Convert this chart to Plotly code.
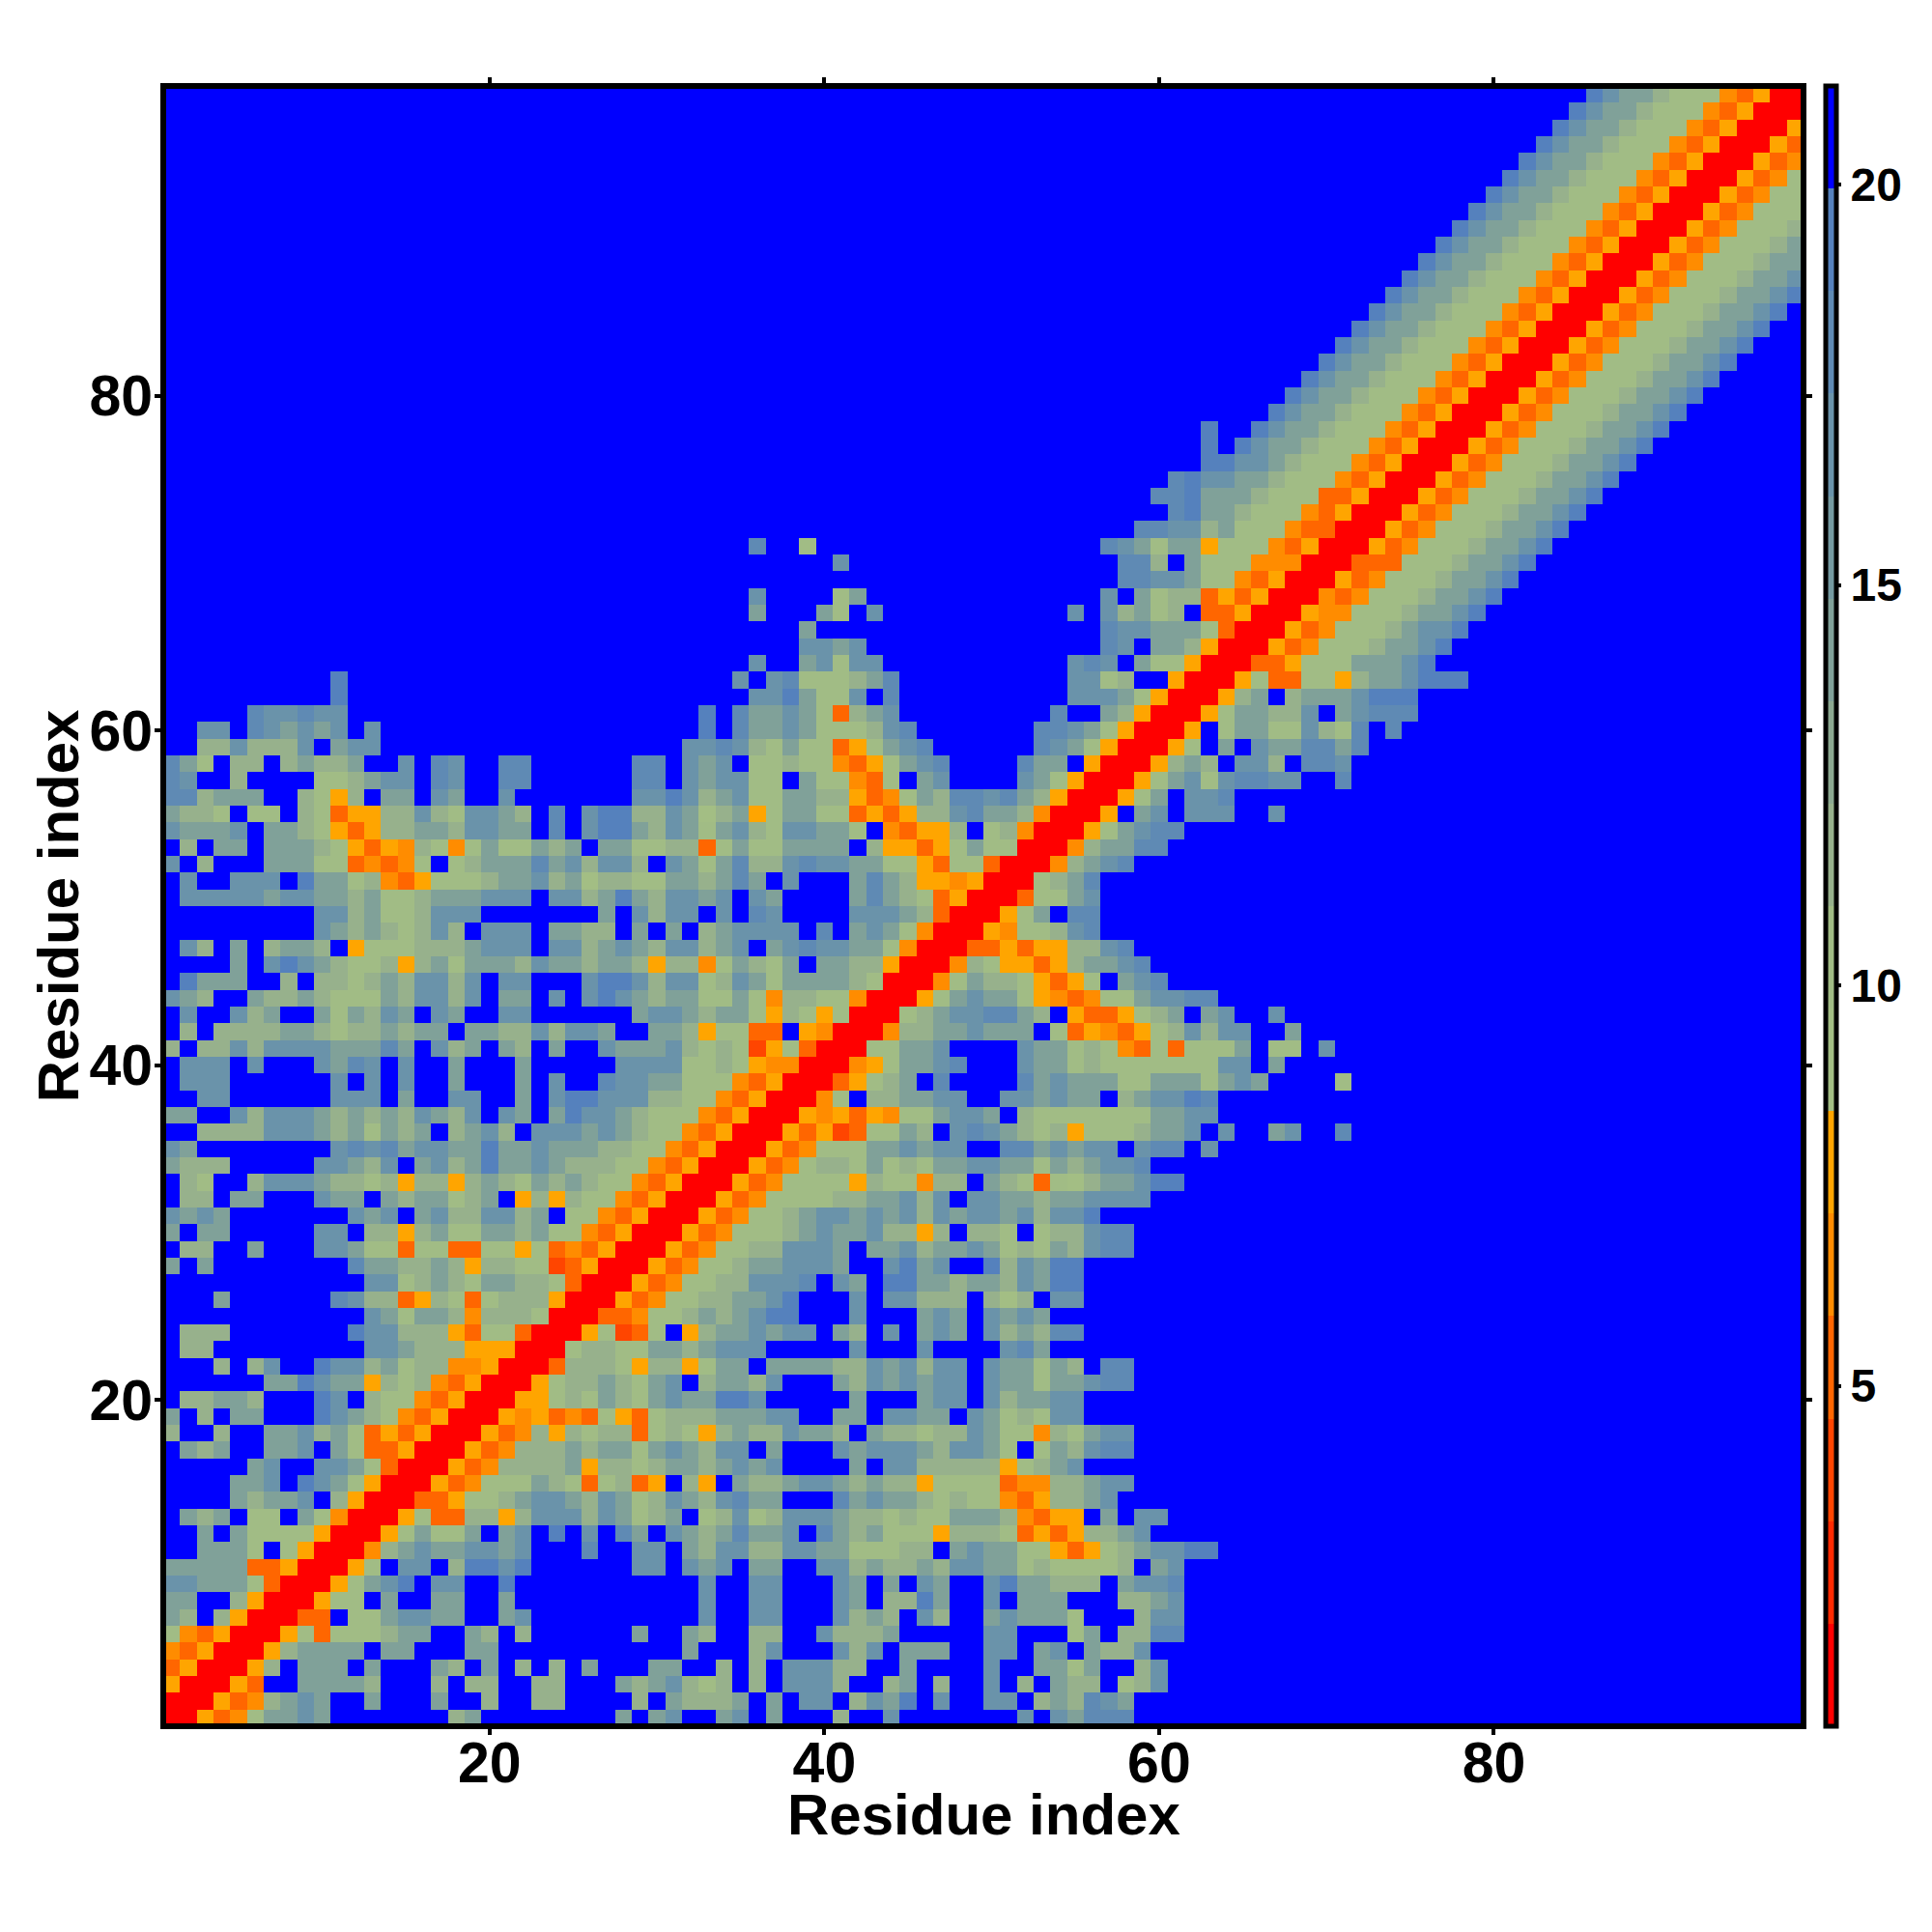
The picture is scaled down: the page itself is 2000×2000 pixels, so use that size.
import plotly.graph_objects as go

# Residue indices and axis ticks
residues = list(range(1, 99))
axis_ticks = [20, 40, 60, 80]
colorbar_ticks = [5, 10, 15, 20]
axis_title = "Residue index"

# Distance bands of the colour bar: lower edge 0.75, each band 1.28 wide
band_codes = "0123456789abcdef"
band_values = [1.39, 2.67, 3.95, 5.23, 6.51, 7.79, 9.07, 10.35, 11.63, 12.91,
               14.19, 15.47, 16.75, 18.03, 19.31, 20.59]
band_colors = ["#ff0000", "#ff2a00", "#ff4500", "#ff6600", "#ff8c00", "#ffa500",
               "#a3be84", "#a1bc85", "#97b18c", "#8ca991", "#80a199", "#759aa1",
               "#6a93aa", "#5f8ab4", "#5581bd", "#0000ff"]

# Contact map, symmetric: row r lists the cells x = r, r+1, ... (unlisted cells = band f)
upper_rows = [
    "005347aaca fffffff8af fffffffafa cffacfafff 8ffcffffff fcfcadddff",
    "005348aca ffafffaff8 ff88ffff8f a888afafcc f8caefcffc cf8a8dcaff",
    "0053ffaa aa8fff8f88 ff88fffa8a c878f8fccc 8ff8af8ffc f8fa88f78c",
    "0058faa afafffa8fa f8f8fafffa aff8f8fccc 88ffaffffc ffaa7aff8c",
    "0058aa aafaafffaa ffffffffff fafff8cfff c8cfaaaffc cfacfa88cf",
    "00573 7778aaffa8 f8ffffffaf fa8ff88ffc 888afffffc cfff7af88dd",
    "0033 f77accaaff acffffffff ffcffccfff c8a8fc8ffa caaa7fff8cc",
    "005 77faffaaff afffffffff ffcffccfff caf88eaffc faaafff88ac",
    "00 57acefccff efffffffff ffcffccfff cafafcaffc eaa888faccd",
    "0 057fccf8ee ceffffffcc fcacfaaffc c8a88a8cca a7877778fac",
    "0048acaacc acfffdffcc fa8cc88cca a77788faca a7753578accee",
    "0057a77af acfefcfdaf ca8adaacfd a8a7775888 7353588ac",
    "00573388 58ccc8ca78 af78c78ccc a887877aaa 84355fafcc",
    "0033577 8acca8ca78 ca8cdaafff dacaa87877 43588ac",
    "005347 77a8737835 f85fa88acc a8a8857777 34488acc",
    "00534 8888a58878 aa8acacfff fafcc88888 578ac",
    "0053 4888a8aa7a ca8ccfafff caccca8cca 7f7a8cdd",
    "005 3485878837 8758a88caa 8fa88788ca 77487acc",
    "00 5453437537 888aaaccff aafccaafca 787cc",
    "0 055787a87a caaeecffff fafffaccfc 8aacc",
    "005788a87a cf8aa8cfff a8cacaccfc aa7aacdd",
    "003888758 857aafaaaa 88cac8ccfc aa7a8fdd",
    "0078877a a8acccffff fcfffcffff cda",
    "0057237 f58aacaccf a8fcfacafc 8a8dd",
    "003347 78a8aceeff fcfffacafc aca",
    "00534 7788aaceff fcfcc888f8 68fcc",
    "0053 47788cccdf cafeeaa8aa 8caee",
    "005 34778aaccc affceacffe 8caee",
    "00 5347788ccc afaac8aaca 787a8cdd",
    "0 05347778ac aac8858f88 7f788cdd",
    "00534778ac cacac8cacc ac8cce",
    "005347777 88aac8cfcc aa8aacccc",
    "00534777 75877488fa 873768aacee",
    "0053478 87a787aacc aa7a8accd",
    "005347 77aacaccff ddacaccfcddfc",
    "00535 2377a8fcdc a87857778a acfcffacffd",
    "0054 535477acca f87777777aacc",
    "004 7f88aaccff ccacaaf8acced",
    "00 3578afdfff fdacaaa77aaa7acaffff7",
    "0 0457aacdff fcaa787777 777ccfa",
    "0077aacfff fcaa787437 3777af77fc",
    "00488aaca aaf7354357 8c8ccffa",
    "0078accd da8f533578 afacffc",
    "0057aca a7543477ac cdd",
    "0047a8 875357facd",
    "00487 55358aacd",
    "0033 535588cd",
    "005 4778cd",
    "0057afdd",
    "00377ac",
    "0078ad",
    "0048acd",
    "0048aadd",
    "0057acdd",
    "005facfcccffc",
    "0057afccd",
    "0057ac7cddccffd",
    "0058a8fcc8fddc",
    "0057fafcaaddad",
    "005f7aa77c87dfd",
    "0057aa88cfacddd",
    "0058af8aaaceee",
    "0057337758aaceee",
    "00335777aaace",
    "005347778aace",
    "005347778acce",
    "005447778aace",
    "004347778aace",
    "005347778aace",
    "003337778aace",
    "005347778aace",
    "005347778aace",
    "005347778aace",
    "005347778aace",
    "005347778aace",
    "005347778aace",
    "005347778aace",
    "005347778aace",
    "005347778aace",
    "005347778aace",
    "005347778aace",
    "005347778aace",
    "005347778aace",
    "005347778aace",
    "005347778aace",
    "005347778aace",
    "005347778aac",
    "005347778aa",
    "005347778a",
    "005347778",
    "00534777",
    "0053477",
    "005347",
    "00534",
    "0053",
    "005",
    "00",
    "0",
]
assert len(upper_rows) == len(residues)

n = len(residues)
z = [[band_values[-1]] * n for _ in range(n)]
for r, text in enumerate(upper_rows):
    for offset, code in enumerate(text.replace(" ", "")):
        if r + offset < n:
            value = band_values[band_codes.index(code)]
            z[r][r + offset] = value
            z[r + offset][r] = value

zmin, zmax = 0.75, 21.23
colorscale = []
for i, color in enumerate(band_colors):
    colorscale.append([i / len(band_colors), color])
    colorscale.append([(i + 1) / len(band_colors), color])

FONT = "Liberation Sans"
fig = go.Figure(go.Heatmap(
    x=residues, y=residues, z=z, zmin=zmin, zmax=zmax, colorscale=colorscale,
    colorbar=dict(
        x=1.0137, xanchor="left", xref="paper", y=0.5, yanchor="middle", yref="paper",
        len=1.0, lenmode="fraction", thickness=11, thicknessmode="pixels",
        outlinewidth=5, outlinecolor="black", borderwidth=0, xpad=0, ypad=0,
        ticks="outside", ticklen=3, tickwidth=4, tickcolor="black",
        tickmode="array", tickvals=colorbar_ticks, ticktext=[str(t) for t in colorbar_ticks],
        tickfont=dict(family=FONT, size=48, color="black", weight="bold"),
    ),
))
axis_common = dict(
    range=[0.5, 98.5], tickmode="array", tickvals=axis_ticks,
    ticktext=[str(t) for t in axis_ticks],
    ticks="outside", ticklen=8, tickwidth=4, tickcolor="black",
    showline=True, linewidth=1, linecolor="black", mirror="ticks",
    showgrid=False, zeroline=False, automargin=False,
    tickfont=dict(family=FONT, size=59, color="black", weight="bold"),
)
fig.update_xaxes(**axis_common, ticklabelstandoff=-22)
fig.update_yaxes(**axis_common, ticklabelstandoff=-10)
title_font = dict(family=FONT, size=60, color="black", weight="bold")
fig.update_layout(
    width=2000, height=2000,
    margin=dict(l=160.7, r=141.3, t=81, b=221, pad=0, autoexpand=False),
    paper_bgcolor="white", plot_bgcolor="white",
    shapes=[dict(type="rect", xref="paper", yref="paper", x0=0, x1=1, y0=0, y1=1,
                 line=dict(color="black", width=6), layer="above")],
    annotations=[
        dict(text=axis_title, xref="paper", yref="paper", x=0.5, y=-0.0536,
             xanchor="center", yanchor="middle", showarrow=False, font=title_font),
        dict(text=axis_title, xref="paper", yref="paper", x=-0.064, y=0.5,
             xanchor="center", yanchor="middle", textangle=-90, showarrow=False, font=title_font),
    ],
)
fig.write_html("out.html")
